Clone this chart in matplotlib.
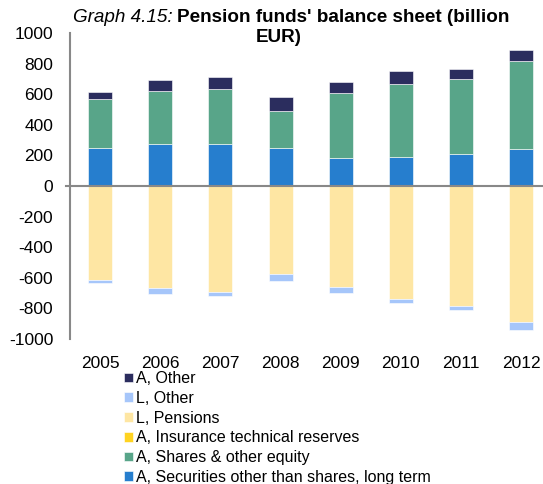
import matplotlib
matplotlib.use("Agg")
import matplotlib.pyplot as plt
import numpy as np

plt.rcParams['font.family'] = ['Liberation Sans', 'DejaVu Sans']
plt.rcParams['axes.unicode_minus'] = False

years = ["2005", "2006", "2007", "2008", "2009", "2010", "2011", "2012"]
a_securities = [250, 272, 277, 251, 186, 190, 209, 244]
a_shares = [317, 351, 360, 239, 424, 479, 488, 571]
a_insurance = [0, 0, 0, 0, 0, 0, 0, 0]
a_other = [48, 68, 73, 90, 70, 81, 70, 74]
l_pensions = [-612, -664, -695, -573, -658, -741, -782, -886]
l_other = [-20, -42, -24, -48, -39, -21, -28, -53]

c_a_other = "#2B2D5E"
c_l_other = "#A6C6FA"
c_l_pens = "#FEE6A3"
c_a_ins = "#FFD320"
c_a_shares = "#58A589"
c_a_sec = "#267ECE"

fig = plt.figure(figsize=(5.43, 4.84), dpi=100)
ax = fig.add_axes([70/543, 1-339/484, 1-70/543 + 0.001, (339-33)/484])

x = np.arange(len(years))
w = 0.4
kw = dict(width=w, edgecolor="white", linewidth=0.4)
sec = np.array(a_securities)
sh = np.array(a_shares)
ins = np.array(a_insurance)
oth = np.array(a_other)
b_sec = ax.bar(x, sec, color=c_a_sec, **kw)
b_sh = ax.bar(x, sh, bottom=sec, color=c_a_shares, **kw)
b_ins = ax.bar(x, ins, bottom=sec+sh, color=c_a_ins, **kw)
b_oth = ax.bar(x, oth, bottom=sec+sh+ins, color=c_a_other, **kw)
lp = np.array(l_pensions)
lo = np.array(l_other)
b_lp = ax.bar(x, lp, color=c_l_pens, **kw)
b_lo = ax.bar(x, lo, bottom=lp, color=c_l_other, **kw)

ax.set_ylim(-1000, 1000)
ax.set_xlim(-0.5, (543-70)/60.1 - 0.5)
ax.set_yticks(range(-1000, 1001, 200))
ax.set_xticks(x)
ax.set_xticklabels(years)
ax.tick_params(axis='y', length=0, labelsize=12.5, pad=12)
ax.tick_params(axis='x', length=0, labelsize=12.5, pad=12)
for s in ["top", "right", "bottom"]:
    ax.spines[s].set_visible(False)
ax.spines["left"].set_color("#888888")
ax.spines["left"].set_linewidth(1.5)
ax.axhline(0, color="#888888", lw=1.5, xmin=-0.008, clip_on=False)

leg = fig.legend([b_oth, b_lo, b_lp, b_ins, b_sh, b_sec],
                 ["A, Other", "L, Other", "L, Pensions", "A, Insurance technical reserves",
                  "A, Shares & other equity", "A, Securities other than shares, long term"],
                 loc="upper left", bbox_to_anchor=(124/543, 1-371/484), frameon=False,
                 fontsize=11.5, handlelength=0.55, handleheight=0.55, handletextpad=0.2,
                 labelspacing=0.3, borderaxespad=0, borderpad=0.0)

# Title with mixed styles
fig.canvas.draw()
r = fig.canvas.get_renderer()
ty1 = 1-17/484
t1 = fig.text(73/543, ty1, "Graph 4.15:", fontsize=13.6, style="italic", va="center", ha="left")
bb = t1.get_window_extent(renderer=r)
fig.text((bb.x1 + 4)/fig.bbox.width, ty1, "Pension funds' balance sheet (billion",
         fontsize=13.6, fontweight="bold", va="center", ha="left")
fig.text(279/543, 1-38/484, "EUR)", fontsize=13.6, fontweight="bold", va="center", ha="center")

fig.savefig("out.png", dpi=100)
